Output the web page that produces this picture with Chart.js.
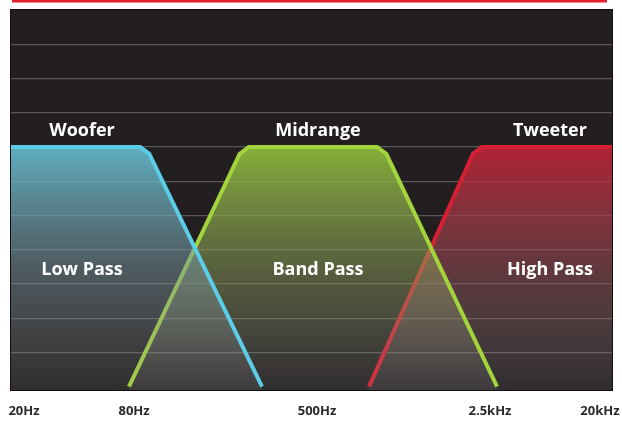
<!DOCTYPE html>
<html>
<head>
    <title>Crossover</title>
    <meta charset="UTF-8">
    <script src="https://cdn.jsdelivr.net/npm/chart.js@4.4.1/dist/chart.umd.min.js"></script>
    <style>
        body { margin: 0; background: #fff; }
    </style>
</head>
<body>
    <canvas id="myChart" width="622" height="421"></canvas>
    <script>
        // x is position across the panel (0..100), y is level
        const tickPos = [2.16, 20.47, 50.92, 79.70, 98.0];
        const tickLabels = ['20Hz', '80Hz', '500Hz', '2.5kHz', '20kHz'];
        const gridLevels = [0, 1, 2, 3, 4, 5, 6, 7, 8, 9];

        const bandNames = ['Woofer', 'Midrange', 'Tweeter'];
        const filterNames = ['Low Pass', 'Band Pass', 'High Pass'];
        const bandCenters = [11.81, 51.08, 89.68];

        const wooferX = [0, 21.46, 23.01, 41.76];
        const wooferY = [6, 6, 5.8, -1];
        const midX = [19.63, 38.05, 39.6, 60.9, 62.45, 80.87];
        const midY = [-1, 5.8, 6, 6, 5.8, -1];
        const tweeterX = [59.57, 76.86, 78.37, 100];
        const tweeterY = [-1, 5.8, 6, 6];

        function points(xs, ys) {
            return xs.map((x, i) => ({x: x, y: ys[i]}));
        }

        function fade(stops) {
            return function (c) {
                const chart = c.chart;
                const area = chart.chartArea;
                if (!area) return 'transparent';
                const top = chart.scales.y.getPixelForValue(6);
                const g = chart.ctx.createLinearGradient(0, top, 0, area.bottom);
                g.addColorStop(0, stops[0]);
                g.addColorStop(0.5, stops[1]);
                g.addColorStop(1, stops[2]);
                return g;
            };
        }

        const panel = {
            id: 'panel',
            beforeDraw(chart) {
                const ctx = chart.ctx, a = chart.chartArea;
                ctx.save();
                ctx.fillStyle = '#e41d2b';
                ctx.fillRect(12, 0, 595, 2.5);
                ctx.fillStyle = '#231f20';
                ctx.fillRect(a.left, a.top, a.right - a.left, a.bottom - a.top);
                ctx.strokeStyle = '#121011';
                ctx.lineWidth = 1;
                ctx.strokeRect(a.left - 0.5, a.top - 0.5, a.right - a.left + 1, a.bottom - a.top + 1);
                ctx.restore();
            },
            afterDatasetsDraw(chart) {
                const ctx = chart.ctx, xs = chart.scales.x, ys = chart.scales.y;
                ctx.save();
                ctx.fillStyle = '#ffffff';
                ctx.textAlign = 'center';
                ctx.textBaseline = 'middle';
                ctx.font = 'bold 18px "Open Sans"';
                bandNames.forEach((t, i) => {
                    ctx.fillText(t, xs.getPixelForValue(bandCenters[i]), ys.getPixelForValue(6.47));
                });
                filterNames.forEach((t, i) => {
                    ctx.fillText(t, xs.getPixelForValue(bandCenters[i]), ys.getPixelForValue(2.41));
                });
                ctx.restore();
            }
        };

        const ctx = document.getElementById('myChart').getContext('2d');
        const myChart = new Chart(ctx, {
            type: 'line',
            data: {
                datasets: [{
                    label: 'Woofer',
                    data: points(wooferX, wooferY),
                    borderColor: '#5bcde6',
                    backgroundColor: fade(['rgba(105,200,222,0.85)', 'rgba(120,150,160,0.5)', 'rgba(150,150,150,0.12)']),
                    borderWidth: 4,
                    fill: 'start'
                }, {
                    label: 'Midrange',
                    data: points(midX, midY),
                    borderColor: '#a3d43c',
                    backgroundColor: fade(['rgba(150,200,60,0.85)', 'rgba(140,160,90,0.5)', 'rgba(150,150,150,0.12)']),
                    borderWidth: 4,
                    fill: 'start'
                }, {
                    label: 'Tweeter',
                    data: points(tweeterX, tweeterY),
                    borderColor: '#d71f33',
                    backgroundColor: fade(['rgba(200,35,55,0.85)', 'rgba(160,80,90,0.5)', 'rgba(150,150,150,0.12)']),
                    borderWidth: 4,
                    fill: 'start'
                }]
            },
            options: {
                responsive: false,
                animation: false,
                layout: {padding: {left: 11, right: 10, top: 10, bottom: 1}},
                elements: {
                    point: {radius: 0},
                    line: {tension: 0, borderJoinStyle: 'round', borderCapStyle: 'butt'}
                },
                plugins: {legend: {display: false}, tooltip: {enabled: false}},
                scales: {
                    x: {
                        type: 'linear',
                        min: 0,
                        max: 100,
                        grid: {display: false, drawTicks: false},
                        border: {display: false},
                        afterBuildTicks: s => { s.ticks = tickPos.map(v => ({value: v})); },
                        afterFit: s => { s.height = 30; s.paddingLeft = 0; s.paddingRight = 0; },
                        ticks: {
                            autoSkip: false,
                            maxRotation: 0,
                            padding: 13,
                            color: '#2b2b2b',
                            font: {family: 'Open Sans', size: 13, weight: 'bold'},
                            callback: (v, i) => tickLabels[i]
                        }
                    },
                    y: {
                        min: -1.1,
                        max: 10,
                        border: {display: false},
                        grid: {color: 'rgba(170,170,170,0.4)', lineWidth: 1.2, drawTicks: false},
                        afterBuildTicks: s => { s.ticks = gridLevels.map(v => ({value: v})); },
                        afterFit: s => { s.width = 0; },
                        ticks: {display: false}
                    }
                }
            },
            plugins: [panel]
        });
    </script>
</body>
</html>
